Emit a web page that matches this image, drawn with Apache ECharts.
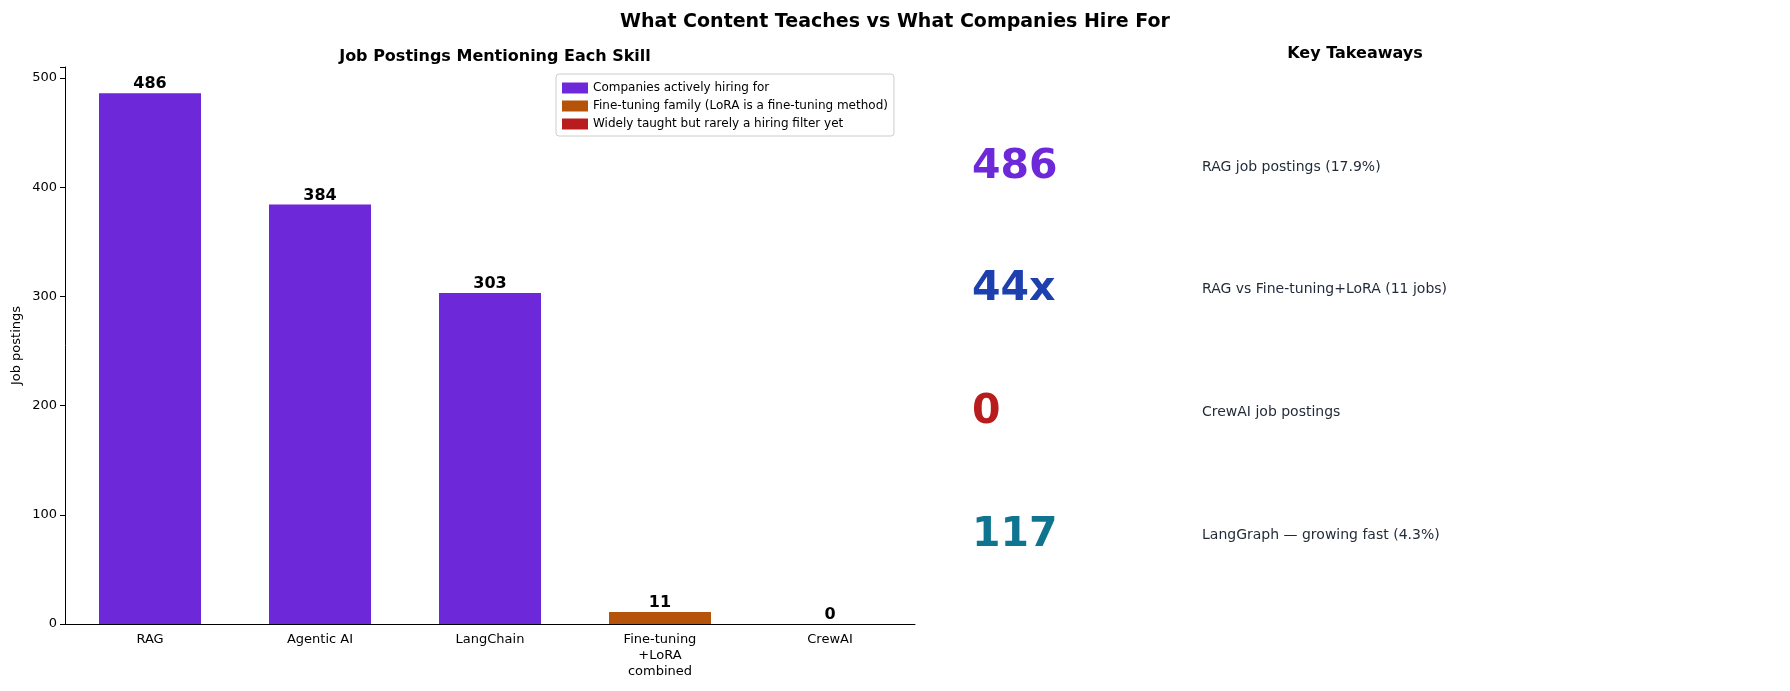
<!DOCTYPE html>
<html>
<head>
<meta charset="utf-8">
<script src="https://cdn.jsdelivr.net/npm/echarts@6/dist/echarts.min.js"></script>
<style>html,body{margin:0;padding:0;background:#fff}#chart{width:1790px;height:691px}</style>
</head>
<body>
<div id="chart"></div>
<script>
// data
var categories = ['RAG', 'Agentic AI', 'LangChain', 'Fine-tuning\n+LoRA\ncombined', 'CrewAI'];
var hiring = [486, 384, 303, '-', '-'];
var fineTuning = ['-', '-', '-', 11, '-'];
var taught = ['-', '-', '-', '-', 0];
var seriesNames = ['Companies actively hiring for', 'Fine-tuning family (LoRA is a fine-tuning method)', 'Widely taught but rarely a hiring filter yet'];
var seriesColors = ['#6D28D9', '#B45309', '#B91C1C'];
var yTicks = { min: 0, max: 510, interval: 100 };

var takeawayValues = ['486', '44x', '0', '117'];
var takeawayLabels = ['RAG job postings (17.9%)', 'RAG vs Fine-tuning+LoRA (11 jobs)', 'CrewAI job postings', 'LangGraph \u2014 growing fast (4.3%)'];
var takeawayColors = ['#6D28D9', '#1E40AF', '#B91C1C', '#0E7490'];

var font = 'DejaVu Sans, sans-serif';
var chart = echarts.init(document.getElementById('chart'));

function barSeries(i, data) {
    return {
        name: seriesNames[i],
        type: 'bar',
        stack: 'a',
        data: data,
        barWidth: '60%',
        itemStyle: { color: seriesColors[i] },
        label: {
            show: true, position: 'top', distance: 1,
            fontFamily: font, fontSize: 16, fontWeight: 'bold', color: '#000'
        }
    };
}

// right-panel text
var graphics = [{
    type: 'text', left: 1355, top: 44,
    style: { text: 'Key Takeaways', fontFamily: font, fontSize: 16, fontWeight: 'bold', fill: '#000', textAlign: 'center' }
}];
var rowY = [167, 289, 412, 535];
takeawayValues.forEach(function (v, i) {
    graphics.push({
        type: 'text', x: 972, y: rowY[i],
        style: { text: v, fontFamily: font, fontSize: 41, fontWeight: 'bold', fill: takeawayColors[i], verticalAlign: 'middle' }
    });
    graphics.push({
        type: 'text', x: 1202, y: rowY[i],
        style: { text: takeawayLabels[i], fontFamily: font, fontSize: 14, fill: '#1f2937', verticalAlign: 'middle' }
    });
});
graphics[0] = { type: 'text', x: 1355, y: 54, style: { text: 'Key Takeaways', fontFamily: font, fontSize: 16, fontWeight: 'bold', fill: '#000', align: 'center', verticalAlign: 'middle' } };

var option = {
    animation: false,
    title: [
        { text: 'What Content Teaches vs What Companies Hire For', left: 'center', top: 8,
          textStyle: { fontFamily: font, fontSize: 19, fontWeight: 'bold', color: '#000' } },
        { text: 'Job Postings Mentioning Each Skill', left: 490, top: 44, textAlign: 'center',
          textStyle: { fontFamily: font, fontSize: 16, fontWeight: 'bold', color: '#000' } }
    ],
    legend: {
        orient: 'vertical', left: 556, top: 74,
        itemWidth: 26, itemHeight: 11, itemGap: 6,
        padding: [8, 6, 6, 6],
        borderColor: '#ccc', borderWidth: 1, borderRadius: 3,
        textStyle: { fontFamily: font, fontSize: 12, color: '#000' },
        data: seriesNames.map(function (n) { return { name: n, icon: 'rect' }; })
    },
    grid: { left: 65, right: 875, top: 67, bottom: 67 },
    xAxis: {
        type: 'category', data: categories,
        axisLine: { lineStyle: { color: '#000' } },
        axisTick: { alignWithLabel: true, lineStyle: { color: '#000' } },
        axisLabel: { fontFamily: font, fontSize: 13, color: '#000', lineHeight: 16 }
    },
    yAxis: {
        type: 'value', min: yTicks.min, max: yTicks.max, interval: yTicks.interval,
        name: 'Job postings', nameLocation: 'middle', nameGap: 42,
        nameTextStyle: { fontFamily: font, fontSize: 13, color: '#000' },
        axisLine: { show: true, lineStyle: { color: '#000' } },
        axisTick: { show: true, lineStyle: { color: '#000' } },
        axisLabel: { fontFamily: font, fontSize: 13, color: '#000',
            formatter: function (v) { return v % 100 === 0 ? v : ''; } },
        splitLine: { show: false }
    },
    series: [barSeries(0, hiring), barSeries(1, fineTuning), barSeries(2, taught)],
    graphic: graphics
};
chart.setOption(option);
window.addEventListener('resize', function () {
    chart.resize();
});
</script>
</body>
</html>
